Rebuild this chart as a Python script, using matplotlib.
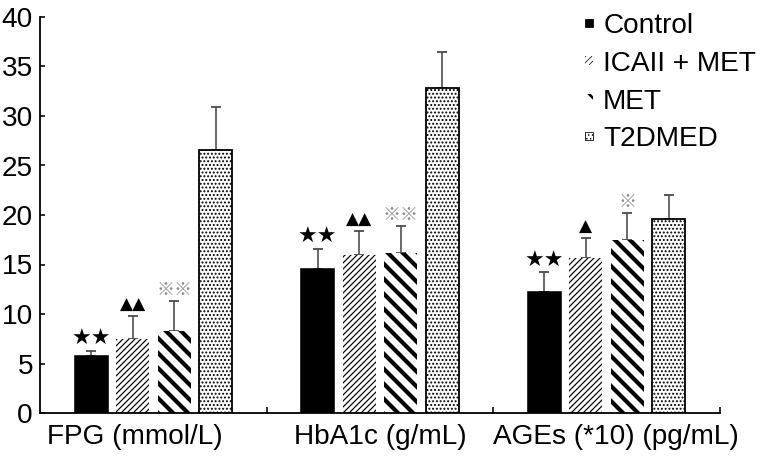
import matplotlib
matplotlib.use('Agg')
import matplotlib.pyplot as plt
import numpy as np

categories = ['FPG (mmol/L)', 'HbA1c (g/mL)', 'AGEs (*10) (pg/mL)']
series_names = ['Control', 'ICAII + MET', 'MET', 'T2DMED']

control_vals = [5.75, 14.5, 12.2]
icaii_vals = [7.45, 15.95, 15.7]
met_vals = [8.3, 16.2, 17.5]
t2dmed_vals = [26.6, 32.8, 19.6]

control_err = [0.55, 2.1, 2.0]
icaii_err = [2.35, 2.45, 2.0]
met_err = [3.05, 2.7, 2.7]
t2dmed_err = [4.3, 3.7, 2.4]

control_sig = ['★★', '★★', '★★']
icaii_sig = ['▲▲', '▲▲', '▲']
met_sig = ['※※', '※※', '※']
t2dmed_sig = ['', '', '']

yticks = [0, 5, 10, 15, 20, 25, 30, 35, 40]

DPI = 90
def pt(px):
    return px * 72.0 / DPI

plt.rcParams['font.family'] = ['Liberation Sans', 'DejaVu Sans']

fig = plt.figure(figsize=(760 / DPI, 464 / DPI), dpi=DPI)
ax = fig.add_axes([40 / 760, 1 - 413 / 464, 680 / 760, (413 - 17) / 464])

x = np.arange(len(categories))
width = 0.1456
pitch = 0.183
offsets = [-1.5, -0.5, 0.5, 1.5]

vals = [control_vals, icaii_vals, met_vals, t2dmed_vals]
errs = [control_err, icaii_err, met_err, t2dmed_err]
sigs = [control_sig, icaii_sig, met_sig, t2dmed_sig]
styles = [
    dict(facecolor='black', hatch=None, hlw=1.0, lw=pt(1.6)),
    dict(facecolor='white', hatch='/////', hlw=pt(1.2), lw=0),
    dict(facecolor='white', hatch='\\\\', hlw=pt(4.2), lw=0),
    dict(facecolor='white', hatch='....', hlw=pt(1.3), lw=pt(1.8)),
]
sig_styles = [
    dict(color='black', fontsize=pt(22), family=['DejaVu Sans']),
    dict(color='black', fontsize=pt(17), family=['DejaVu Sans']),
    dict(color='#8a8a8a', fontsize=pt(18), family=['Noto Sans CJK JP', 'DejaVu Sans']),
    dict(color='black', fontsize=pt(16), family=['DejaVu Sans']),
]

for i, name in enumerate(series_names):
    st = styles[i]
    with plt.rc_context({'hatch.linewidth': st['hlw'], 'hatch.color': 'black'}):
        bars = ax.bar(x + offsets[i] * pitch, vals[i], width,
                      facecolor=st['facecolor'], edgecolor='black',
                      linewidth=st['lw'], hatch=st['hatch'], label=name, zorder=2)
    for b in bars:
        if hasattr(b, 'set_hatch_linewidth'):
            b.set_hatch_linewidth(st['hlw'])
    ax.errorbar(x + offsets[i] * pitch, vals[i],
                yerr=[np.zeros(len(vals[i])), errs[i]],
                fmt='none', ecolor='#4a4a4a', elinewidth=pt(1.6),
                capsize=pt(5), capthick=pt(1.8), zorder=1)
    for j, s in enumerate(sigs[i]):
        if s:
            ax.annotate(s, (x[j] + offsets[i] * pitch, vals[i][j] + errs[i][j]),
                        xytext=(0, pt(2)), textcoords='offset points',
                        ha='center', va='bottom', **sig_styles[i])

ax.set_xlim(-0.5, 2.5)
ax.set_ylim(0, 40)
ax.set_yticks(yticks)
ax.set_yticklabels([str(v) for v in yticks])
label_shift = [-0.08, 0.0, 0.04]
ax.set_xticks(x + np.array(label_shift))
ax.set_xticklabels(categories)
ax.set_xticks([0.5, 1.5, 2.5], minor=True)
ax.tick_params(axis='x', which='major', length=0, pad=pt(11), labelsize=pt(28))
ax.tick_params(axis='x', which='minor', direction='in', length=pt(6), width=pt(1.6))
ax.tick_params(axis='y', direction='in', length=pt(5), width=pt(1.6), pad=pt(7), labelsize=pt(28))

for side in ['top', 'right']:
    ax.spines[side].set_visible(False)
for side in ['left', 'bottom']:
    ax.spines[side].set_linewidth(pt(1.8))

leg = ax.legend(loc='upper left', bbox_to_anchor=(585 / 760, 1 - 13 / 464),
                bbox_transform=fig.transFigure, frameon=False,
                fontsize=pt(28), handlelength=0.3, handleheight=0.3,
                handletextpad=0.35, labelspacing=0.42, borderpad=0, borderaxespad=0)
for p, st in zip(leg.get_patches(), styles):
    p.set_linewidth(pt(0.8) if st['lw'] else 0)
    if hasattr(p, 'set_hatch_linewidth'):
        p.set_hatch_linewidth(st['hlw'] * 0.6)
    w = p.get_width()
    h = p.get_height()
    cy = p.get_y() + h / 2
    p.set_height(w)
    p.set_y(cy - w / 2)

fig.savefig('out.png', dpi=DPI)
